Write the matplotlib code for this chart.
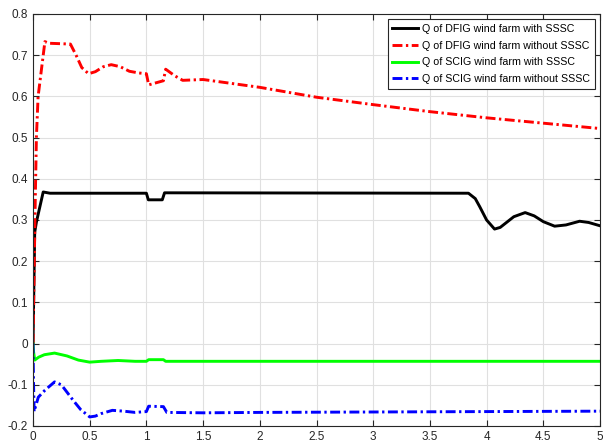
import matplotlib
matplotlib.use("Agg")
import matplotlib.pyplot as plt

plt.rcParams['font.family'] = ['Liberation Sans', 'DejaVu Sans']
plt.rcParams['axes.unicode_minus'] = False

# Time axis (s) and reactive power (pu) of each wind farm
t_dfig = [0, 0.015, 0.03, 0.09, 0.15, 1.0, 1.017, 1.14, 1.16, 3.84, 3.9, 3.94, 4.0, 4.07,
          4.12, 4.18, 4.24, 4.34, 4.42, 4.5, 4.6, 4.7, 4.82, 4.9, 5.0]
q_dfig_sssc = [0, 0.27, 0.295, 0.368, 0.365, 0.365, 0.349, 0.349, 0.366, 0.365, 0.352, 0.332,
               0.300, 0.278, 0.282, 0.295, 0.308, 0.318, 0.310, 0.296, 0.285, 0.288, 0.297,
               0.294, 0.286]

t_dfig_no = [0, 0.02, 0.03, 0.045, 0.105, 0.14, 0.33, 0.38, 0.43, 0.49, 0.55, 0.62, 0.69,
             0.77, 0.85, 0.93, 1.0, 1.02, 1.15, 1.17, 1.25, 1.32, 1.5, 2.0, 2.5, 3.0, 3.5,
             4.0, 4.5, 5.0]
q_dfig_no_sssc = [0, 0.35, 0.5, 0.6, 0.733, 0.729, 0.727, 0.70, 0.67, 0.655, 0.660, 0.672,
                  0.677, 0.672, 0.661, 0.657, 0.655, 0.628, 0.638, 0.666, 0.650, 0.639, 0.641,
                  0.622, 0.598, 0.580, 0.563, 0.548, 0.535, 0.522]

t_scig = [0, 0.005, 0.015, 0.05, 0.1, 0.19, 0.3, 0.4, 0.5, 0.6, 0.75, 0.9, 1.0, 1.02, 1.15,
          1.17, 5.0]
q_scig_sssc = [0, -0.02, -0.04, -0.033, -0.027, -0.023, -0.030, -0.040, -0.045, -0.043,
               -0.041, -0.043, -0.043, -0.039, -0.039, -0.043, -0.043]

t_scig_no = [0, 0.005, 0.01, 0.02, 0.047, 0.106, 0.19, 0.25, 0.3, 0.355, 0.42, 0.5, 0.55,
             0.6, 0.7, 0.8, 0.9, 1.0, 1.02, 1.15, 1.18, 1.5, 2.0, 3.0, 4.0, 5.0]
q_scig_no_sssc = [0, -0.1, -0.165, -0.155, -0.13, -0.113, -0.093, -0.100, -0.118, -0.138,
                  -0.160, -0.178, -0.176, -0.170, -0.162, -0.164, -0.167, -0.165, -0.152,
                  -0.153, -0.167, -0.168, -0.167, -0.166, -0.165, -0.164]

labels = ["Q of DFIG wind farm with SSSC", "Q of DFIG wind farm without SSSC",
          "Q of SCIG wind farm with SSSC", "Q of SCIG wind farm without SSSC"]

x_ticks = [0, 0.5, 1, 1.5, 2, 2.5, 3, 3.5, 4, 4.5, 5]
x_tick_labels = ["0", "0.5", "1", "1.5", "2", "2.5", "3", "3.5", "4", "4.5", "5"]
y_ticks = [-0.2, -0.1, 0, 0.1, 0.2, 0.3, 0.4, 0.5, 0.6, 0.7, 0.8]
y_tick_labels = ["-0.2", "-0.1", "0", "0.1", "0.2", "0.3", "0.4", "0.5", "0.6", "0.7", "0.8"]

fig = plt.figure(figsize=(6.03, 4.45), dpi=100)
ax = fig.add_axes([33 / 603, 1 - 426 / 445, 567 / 603, 412 / 445])

dashdot = (0, (3.4, 1.2, 0.8, 1.2))
lw = 2.1
ax.plot(t_dfig, q_dfig_sssc, color='black', lw=lw, label=labels[0])
ax.plot(t_dfig_no, q_dfig_no_sssc, color='red', lw=lw, linestyle=dashdot, label=labels[1])
ax.plot(t_scig, q_scig_sssc, color=(0, 1, 0), lw=lw, label=labels[2])
ax.plot(t_scig_no, q_scig_no_sssc, color='blue', lw=lw, linestyle=dashdot, label=labels[3])

ax.set_xlim(0, 5)
ax.set_ylim(-0.2, 0.8)
ax.set_xticks(x_ticks)
ax.set_xticklabels(x_tick_labels)
ax.set_yticks(y_ticks)
ax.set_yticklabels(y_tick_labels)

axis_color = (0.15, 0.15, 0.15)
ax.grid(True, color=(0.88, 0.88, 0.88), linewidth=0.8)
ax.set_axisbelow(True)
for s in ax.spines.values():
    s.set_color(axis_color)
    s.set_linewidth(0.8)
ax.tick_params(direction='in', top=True, right=True, length=4, width=0.8,
               colors=axis_color, labelsize=8.5, labelcolor=axis_color, pad=3.5)

leg = ax.legend(loc='upper right', fontsize=7.7, frameon=True, fancybox=False,
                edgecolor=axis_color, framealpha=1, handlelength=2.4, handletextpad=0.35,
                labelspacing=0.62, borderpad=0.45, borderaxespad=0.5)
leg.get_frame().set_linewidth(0.8)

fig.savefig("out.png", dpi=100)
